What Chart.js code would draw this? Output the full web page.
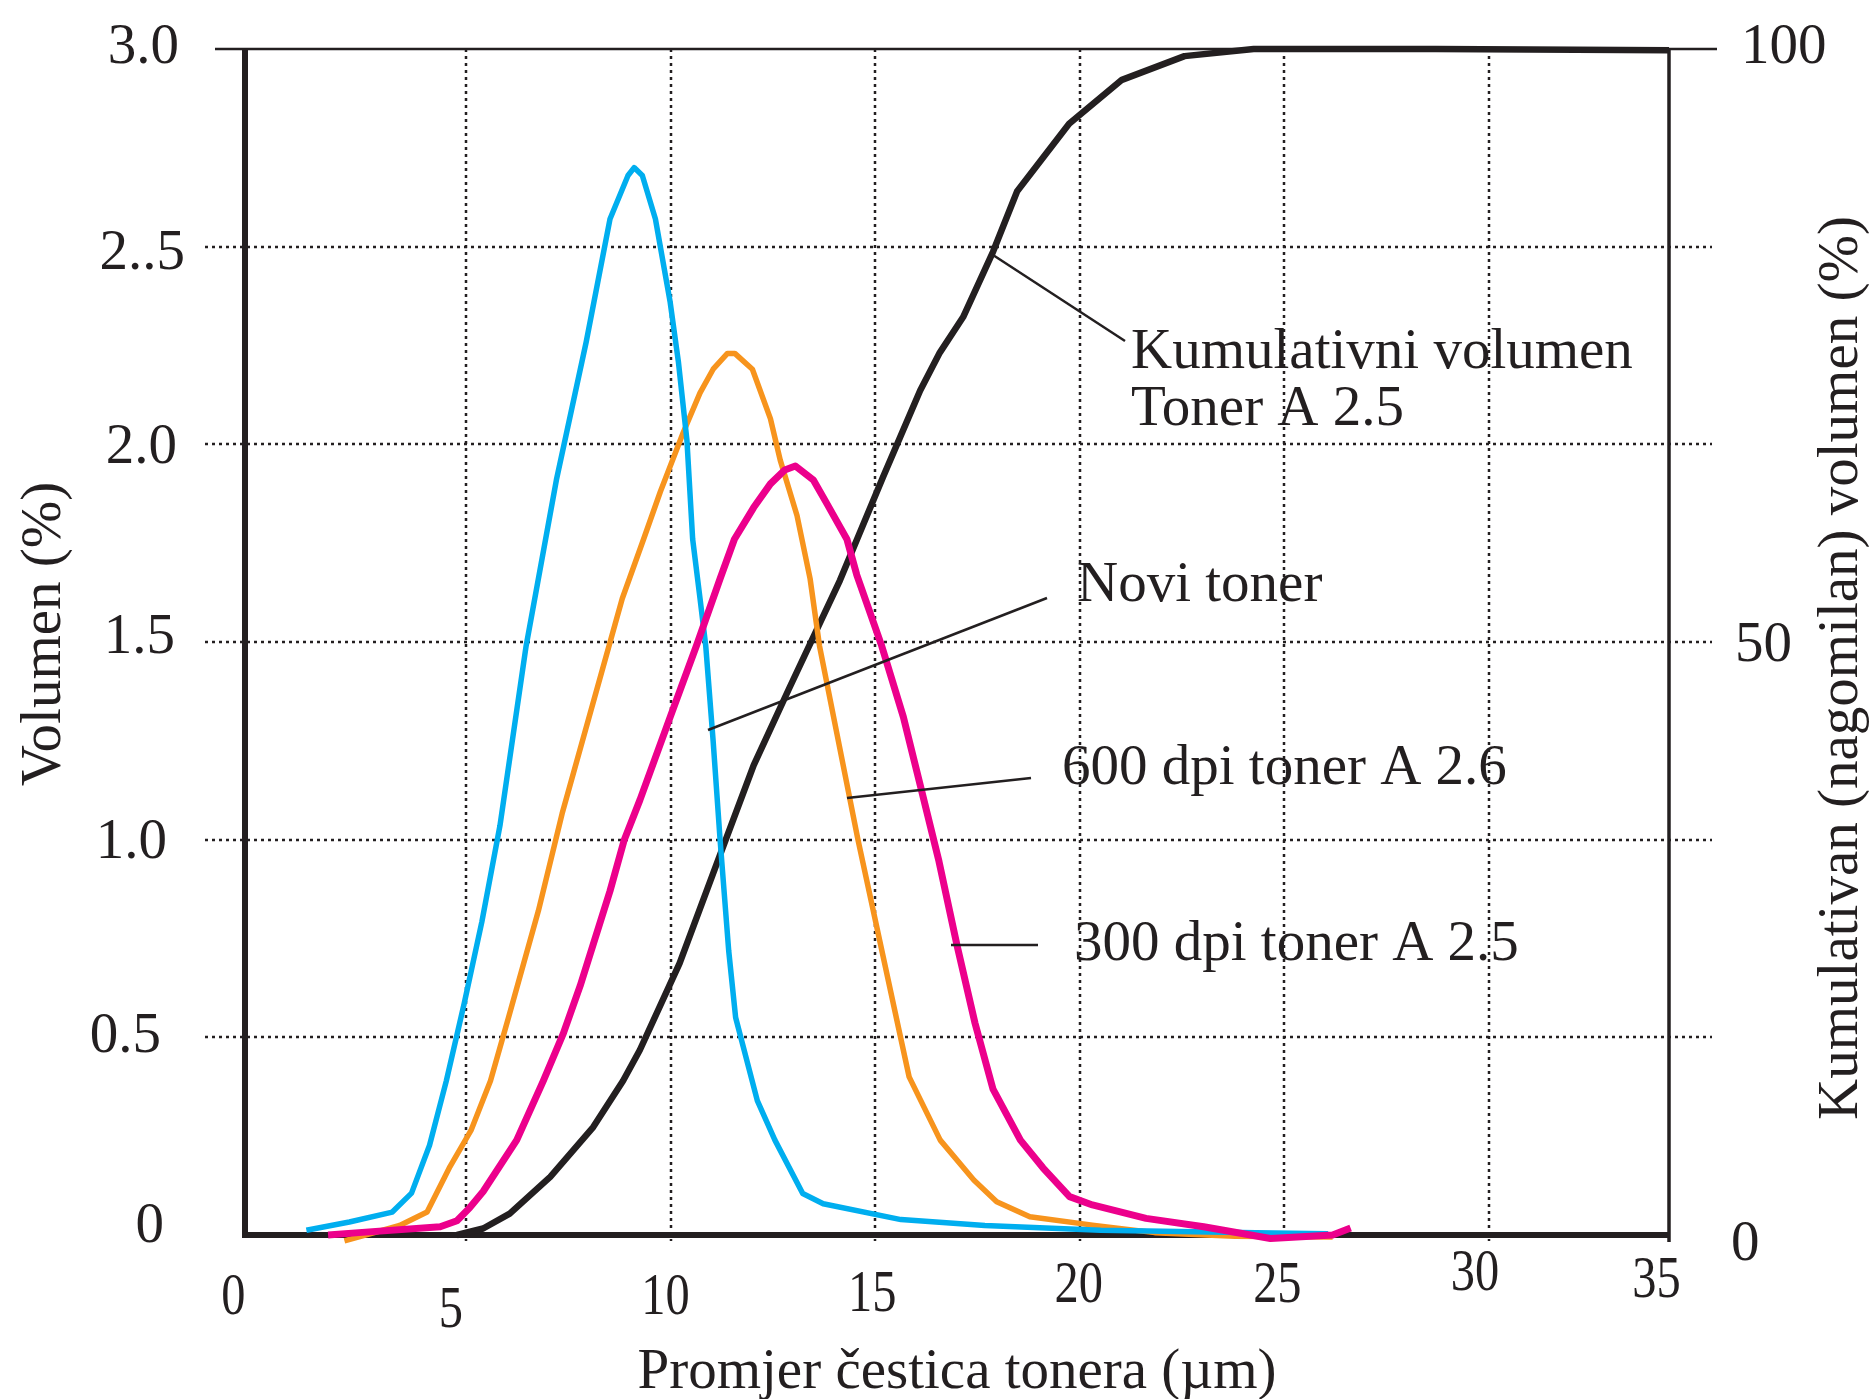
<!DOCTYPE html>
<html>
<head>
<meta charset="utf-8">
<script src="https://cdn.jsdelivr.net/npm/chart.js@4.4.0/dist/chart.umd.min.js"></script>
<style>
  html, body { margin: 0; padding: 0; background: #fff; }
  canvas { display: block; }
</style>
</head>
<body>
<canvas id="toner" width="1876" height="1399"></canvas>
<script>
// promjer čestica (µm) -> volumen (%), očitano s grafa
const noviX = [1.10, 2.15, 3.20, 3.67, 4.11, 4.52, 4.96, 5.39, 5.83, 6.47, 7.21, 7.94, 8.52, 8.96, 9.11, 9.31, 9.63, 9.99, 10.19, 10.40, 10.54, 10.72, 10.86, 11.04, 11.21, 11.42, 11.59, 12.12, 12.55, 13.23, 13.73, 15.63, 17.68, 20.51, 24.31, 26.07];
const noviY = [0.012, 0.033, 0.058, 0.106, 0.227, 0.39, 0.587, 0.793, 1.035, 1.49, 1.91, 2.26, 2.57, 2.68, 2.70, 2.68, 2.57, 2.36, 2.21, 2.01, 1.76, 1.61, 1.49, 1.25, 1.0, 0.72, 0.55, 0.34, 0.24, 0.105, 0.079, 0.039, 0.024, 0.012, 0.006, 0.003];

const dpi600X = [2.03, 3.38, 4.05, 4.61, 5.13, 5.60, 6.04, 6.77, 7.35, 8.09, 8.82, 9.34, 9.75, 10.31, 10.72, 11.04, 11.39, 11.57, 12.00, 12.44, 12.68, 13.09, 13.41, 13.64, 14.58, 15.60, 15.83, 16.59, 17.41, 17.97, 18.78, 20.31, 21.83, 23.79, 26.18];
const dpi600Y = [-0.015, 0.024, 0.058, 0.173, 0.266, 0.39, 0.55, 0.82, 1.066, 1.34, 1.61, 1.76, 1.88, 2.03, 2.13, 2.19, 2.23, 2.23, 2.19, 2.065, 1.96, 1.82, 1.66, 1.49, 1.0, 0.51, 0.40, 0.24, 0.139, 0.084, 0.046, 0.025, 0.006, -0.003, -0.005];

const dpi300X = [1.63, 2.38, 4.37, 4.78, 5.10, 5.42, 6.24, 6.89, 7.38, 7.79, 8.52, 8.87, 9.25, 9.99, 10.63, 11.21, 11.56, 12.03, 12.44, 12.79, 13.05, 13.49, 13.82, 14.31, 14.55, 15.16, 15.69, 16.13, 16.56, 17.0, 17.44, 17.88, 18.55, 19.1, 19.75, 20.31, 21.62, 23.03, 24.66, 26.18, 26.62];
const dpi300Y = [0, 0.006, 0.021, 0.036, 0.07, 0.11, 0.24, 0.39, 0.51, 0.63, 0.87, 1.0, 1.10, 1.31, 1.49, 1.66, 1.76, 1.84, 1.90, 1.935, 1.945, 1.91, 1.85, 1.76, 1.67, 1.49, 1.31, 1.126, 0.945, 0.733, 0.536, 0.369, 0.24, 0.17, 0.097, 0.076, 0.042, 0.021, -0.009, 0, 0.018];

// kumulativni volumen (%), desna os
const kumX = [4.78, 5.42, 6.07, 7.06, 8.11, 8.84, 9.25, 10.22, 11.15, 12.03, 12.90, 14.14, 15.19, 16.10, 16.58, 17.15, 17.88, 18.47, 19.74, 21.03, 22.56, 24.25, 28.70, 34.40];
const kumY = [0, 0.55, 1.8, 4.9, 9.1, 13.0, 15.6, 22.9, 31.5, 39.6, 46.1, 55.2, 63.9, 71.2, 74.4, 77.4, 82.9, 88.0, 93.7, 97.4, 99.4, 100, 100, 99.9];

const xTickValues = [0, 5, 10, 15, 20, 25, 30, 35];
const xGridValues = [5, 10, 15, 20, 25, 30];
const yTickValues = [0, 0.5, 1.0, 1.5, 2.0, 2.5, 3.0];
const yTickLabels = ['0', '0.5', '1.0', '1.5', '2.0', '2..5', '3.0'];
const y1TickValues = [0, 50, 100];

const points = (xs, ys) => xs.map((v, i) => ({ x: v, y: ys[i] }));

const INK = '#231f20';
const FONT = '"Liberation Serif", "Times New Roman", serif';

function seg(ctx, x1, y1, x2, y2) {
  ctx.beginPath();
  ctx.moveTo(x1, y1);
  ctx.lineTo(x2, y2);
  ctx.stroke();
}

// okvir, mreža, oznake i natpisi (crtano rukom kao na originalu)
const okvir = {
  id: 'okvir',
  beforeDatasetsDraw(chart) {
    const { ctx, chartArea: a, scales: { x, y } } = chart;
    ctx.save();
    ctx.strokeStyle = INK;
    ctx.lineWidth = 2.5;
    ctx.setLineDash([3, 4]);
    yTickValues.slice(1, -1).forEach(v => {
      const py = Math.round(y.getPixelForValue(v));
      seg(ctx, a.left - 40, py, a.right + 43, py);
    });
    xGridValues.forEach(v => {
      const px = Math.round(x.getPixelForValue(v));
      seg(ctx, px, a.top, px, a.bottom + 6);
    });
    ctx.setLineDash([]);
    ctx.lineWidth = 2.5;
    seg(ctx, a.left - 30, a.top, a.right + 48, a.top);
    ctx.lineWidth = 3.5;
    seg(ctx, a.right, a.top, a.right, a.bottom + 7);
    ctx.lineWidth = 6;
    seg(ctx, a.left, a.top, a.left, a.bottom + 3);
    seg(ctx, a.left - 3, a.bottom, a.right, a.bottom);
    ctx.restore();
  },
  afterDatasetsDraw(chart) {
    const { ctx, chartArea: a, scales: { x, y, y1 } } = chart;
    ctx.save();
    ctx.fillStyle = INK;
    ctx.font = '57px ' + FONT;
    ctx.textBaseline = 'alphabetic';

    // lijeva os
    const yRight = [-81, -84, -78, -70, -68, -60, -66];
    const yShift = [-12, -4, -1, -8, 0, 3, -5];
    ctx.textAlign = 'right';
    yTickValues.forEach((v, i) => {
      ctx.fillText(yTickLabels[i], a.left + yRight[i], y.getPixelForValue(v) + yShift[i] + 19);
    });

    // desna os
    const rLeft = [62, 66, 72];
    const rShift = [6, 0, -5];
    ctx.textAlign = 'left';
    y1TickValues.forEach((v, i) => {
      ctx.fillText(String(v), a.right + rLeft[i], y1.getPixelForValue(v) + rShift[i] + 19);
    });

    // x os (uža slova, stepenasto)
    const xShift = [-28, -15, -5, -3, -1, -7, -14, -37];
    const xDrop = [79, 92, 79, 76, 67, 67, 55, 62];
    ctx.textAlign = 'center';
    xTickValues.forEach((v, i) => {
      ctx.save();
      ctx.translate(x.getPixelForValue(v) + xShift[i], a.bottom + xDrop[i]);
      ctx.scale(0.85, 1.05);
      ctx.fillText(String(v), 0, 0);
      ctx.restore();
    });

    // naslovi osi
    ctx.fillText('Promjer čestica tonera (µm)', (a.left + a.right) / 2, 1388);
    ctx.textBaseline = 'middle';
    ctx.save();
    ctx.translate(a.left - 200, 634);
    ctx.rotate(-Math.PI / 2);
    ctx.fillText('Volumen (%)', 0, 0);
    ctx.restore();
    ctx.save();
    ctx.translate(a.right + 173, 668);
    ctx.rotate(-Math.PI / 2);
    ctx.fillText('Kumulativan (nagomilan) volumen (%)', 0, 0);
    ctx.restore();

    // oznake krivulja
    ctx.textAlign = 'left';
    ctx.fillText('Kumulativni volumen', 1131, 353);
    ctx.fillText('Toner A 2.5', 1131, 410);
    ctx.fillText('Novi toner', 1077, 586);
    ctx.fillText('600 dpi toner A 2.6', 1062, 769);
    ctx.fillText('300 dpi toner A 2.5', 1074, 945);

    ctx.strokeStyle = INK;
    ctx.lineWidth = 2.5;
    seg(ctx, 993, 255, 1125, 341);
    seg(ctx, 708, 730, 1047, 598);
    seg(ctx, 847, 798, 1031, 778);
    seg(ctx, 951, 945, 1038, 945);
    ctx.restore();
  }
};

new Chart(document.getElementById('toner'), {
  type: 'line',
  data: {
    datasets: [
      { label: '300 dpi toner A 2.5', data: points(dpi300X, dpi300Y), borderColor: '#ec008c', borderWidth: 7, yAxisID: 'y' },
      { label: 'Novi toner', data: points(noviX, noviY), borderColor: '#00aeef', borderWidth: 5.5, yAxisID: 'y' },
      { label: '600 dpi toner A 2.6', data: points(dpi600X, dpi600Y), borderColor: '#f7941d', borderWidth: 5.5, yAxisID: 'y' },
      { label: 'Kumulativni volumen Toner A 2.5', data: points(kumX, kumY), borderColor: INK, borderWidth: 6.5, yAxisID: 'y1' }
    ]
  },
  options: {
    responsive: false,
    animation: false,
    devicePixelRatio: 1,
    layout: { padding: { left: 245, right: 207, top: 49, bottom: 164 } },
    elements: {
      point: { radius: 0 },
      line: { tension: 0, fill: false, borderJoinStyle: 'round', borderCapStyle: 'butt' }
    },
    datasets: { line: { clip: false } },
    scales: {
      x: { type: 'linear', min: -0.4, max: 34.4, display: false },
      y: { type: 'linear', min: 0, max: 3, display: false },
      y1: { type: 'linear', position: 'right', min: 0, max: 100, display: false }
    },
    plugins: { legend: { display: false }, tooltip: { enabled: false } }
  },
  plugins: [okvir]
});
</script>
</body>
</html>
